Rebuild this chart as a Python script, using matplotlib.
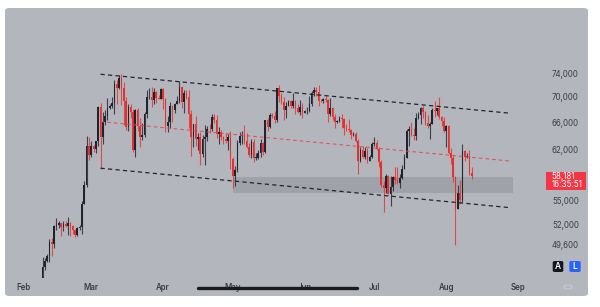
import matplotlib
matplotlib.use("Agg")
import matplotlib.pyplot as plt
import matplotlib.dates as mdates
import pandas as pd
from matplotlib.patches import Rectangle, FancyBboxPatch, Circle
from matplotlib.lines import Line2D
from matplotlib.ticker import FuncFormatter, NullLocator

# ---------------- data (BTC daily candles, thousands USD) ----------------
start_date = "2024-02-09"

opens = [
    45.29, 47.13, 47.77, 48.29, 49.96, 49.73, 51.83, 51.94, 52.16, 51.66, 52.12, 51.78, 52.26, 51.84, 51.30, 50.73, 51.57, 51.73, 54.52, 57.09, 62.50,
    61.20, 62.44, 62.03, 63.17, 68.33, 63.80, 66.11, 66.93, 68.30, 68.50, 69.02, 72.12, 71.48, 73.08, 71.40, 69.40, 65.32, 68.39, 67.61, 61.94, 67.91, 65.49, 63.78, 64.04, 67.21, 69.96, 69.99, 69.46, 70.74, 69.89, 69.65,
    71.33, 69.70, 65.45, 65.98, 68.51, 67.84, 68.90, 69.36, 71.63, 69.14, 70.59, 70.06, 67.20, 63.82, 65.74, 63.42, 63.81, 61.28, 63.51, 63.84, 64.99, 64.93, 66.84, 66.41, 64.28, 64.49, 63.76, 63.42, 63.11, 63.84,
    60.64, 58.25, 59.12, 62.89, 63.89, 64.03, 63.16, 62.33, 61.19, 63.05, 60.79, 60.79, 61.45, 62.90, 61.55, 66.27, 65.23, 67.05, 66.94, 66.28, 71.45, 70.14, 69.12, 67.93, 68.53, 69.27, 68.51, 69.39, 68.30, 67.58, 68.35,
    67.49, 67.71, 67.75, 68.80, 70.57, 71.08, 70.76, 69.34, 69.31, 69.65, 69.51, 67.32, 68.24, 66.75, 66.01, 66.19, 66.64, 66.49, 65.15, 64.96, 64.83, 64.10, 64.25, 63.18, 60.28, 61.80, 60.86, 61.67, 60.32, 60.89,
    62.68, 62.85, 62.03, 60.17, 56.98, 56.66, 58.23, 55.86, 56.71, 58.05, 57.72, 57.34, 57.90, 59.23, 60.79, 64.72, 65.04, 64.09, 63.97, 66.71, 67.16, 68.19, 67.58, 65.93, 65.37, 65.80, 67.91, 67.81, 68.26, 66.78, 66.19,
    64.62, 65.35, 61.50, 60.68, 58.12, 53.99, 56.03, 55.03, 61.71, 60.88, 60.95, 58.71,
]
highs = [
    48.20, 48.10, 48.60, 50.30, 50.40, 52.00, 52.80, 52.50, 52.20, 52.40, 52.50, 52.90, 52.30, 52.00, 51.50, 51.70, 51.90, 54.90, 57.50, 63.90, 63.70,
    63.20, 62.60, 63.20, 68.50, 69.00, 67.60, 67.90, 69.90, 68.80, 70.00, 72.80, 72.90, 73.60, 73.80, 72.40, 70.00, 68.90, 68.90, 68.10, 68.00, 68.20, 66.60, 65.90, 67.60, 71.20, 71.50, 71.70, 71.50, 70.90, 70.30, 71.40,
    71.50, 69.80, 66.90, 69.20, 68.70, 69.00, 70.20, 72.70, 71.70, 71.10, 71.20, 71.20, 67.90, 65.80, 66.90, 64.30, 64.50, 64.10, 65.50, 65.40, 65.70, 67.20, 67.20, 67.10, 65.30, 64.80, 63.90, 64.30, 64.20, 64.70,
    60.80, 59.60, 63.30, 64.50, 64.60, 65.50, 64.40, 62.90, 63.40, 63.40, 61.40, 61.80, 63.40, 63.00, 66.40, 66.70, 67.40, 67.40, 67.70, 71.50, 71.90, 70.60, 70.00, 69.20, 69.50, 69.50, 70.60, 69.50, 68.80, 69.50, 69.00,
    67.90, 68.40, 70.20, 71.00, 71.70, 71.60, 71.90, 69.60, 69.90, 70.10, 69.60, 69.90, 68.40, 67.30, 66.40, 66.90, 67.20, 66.60, 65.70, 66.50, 65.00, 64.50, 64.50, 63.40, 62.30, 62.40, 62.30, 62.20, 61.20, 63.00,
    63.80, 63.30, 62.30, 60.50, 57.50, 58.50, 58.40, 58.20, 58.30, 59.40, 59.50, 58.50, 59.80, 61.30, 64.90, 65.40, 66.10, 65.10, 67.40, 67.60, 68.40, 68.50, 67.80, 67.10, 66.10, 68.30, 69.40, 68.30, 70.00, 66.90, 66.80,
    65.60, 65.60, 62.20, 61.10, 58.30, 57.00, 57.70, 62.70, 61.80, 61.40, 61.80, 59.50,
]
lows = [
    45.25, 46.80, 47.70, 47.70, 48.30, 49.30, 51.30, 51.60, 50.70, 51.20, 51.70, 50.80, 50.70, 50.90, 50.50, 50.60, 51.30, 50.90, 54.50, 56.70, 60.40,
    60.80, 61.60, 61.40, 62.40, 59.20, 62.80, 65.60, 66.30, 68.00, 68.20, 67.20, 68.80, 71.30, 68.70, 65.60, 64.80, 64.60, 66.60, 61.60, 60.80, 64.60, 62.30, 63.30, 63.80, 66.60, 69.60, 68.40, 68.90, 69.10, 69.60, 69.60,
    68.10, 64.50, 64.50, 65.10, 66.00, 67.50, 68.80, 69.10, 68.20, 67.50, 69.60, 65.10, 61.00, 62.30, 62.40, 61.80, 59.80, 60.80, 59.70, 63.20, 64.30, 64.60, 65.90, 63.60, 62.80, 63.30, 62.80, 62.90, 61.80, 59.20,
    56.60, 56.90, 58.80, 62.60, 62.80, 62.70, 62.20, 60.90, 60.70, 60.20, 60.50, 60.60, 60.80, 61.10, 61.40, 64.60, 65.10, 66.60, 65.90, 66.10, 69.20, 68.90, 66.30, 66.70, 68.50, 68.30, 68.30, 67.30, 67.50, 67.10, 66.70,
    67.40, 67.30, 67.60, 68.60, 70.20, 70.10, 68.60, 69.20, 69.10, 69.20, 66.10, 66.90, 66.30, 65.10, 65.90, 66.00, 65.10, 64.10, 64.70, 64.50, 63.40, 63.90, 63.10, 58.50, 60.20, 60.70, 60.60, 60.00, 60.30, 60.70,
    62.50, 61.80, 59.50, 56.80, 53.50, 56.00, 55.80, 54.30, 56.30, 57.20, 57.10, 56.60, 57.80, 59.20, 60.70, 62.50, 63.90, 63.30, 63.30, 66.50, 65.80, 66.60, 65.50, 65.10, 63.50, 65.70, 66.80, 67.10, 66.50, 65.40, 64.50,
    62.30, 61.30, 59.90, 57.40, 49.60, 53.90, 54.60, 54.80, 60.30, 60.70, 58.40, 57.80,
]
closes = [
    47.13, 47.77, 48.29, 49.96, 49.73, 51.83, 51.94, 52.16, 51.66, 52.12, 51.78, 52.26, 51.84, 51.30, 50.73, 51.57, 51.73, 54.52, 57.09, 62.50, 61.20,
    62.44, 62.03, 63.17, 68.33, 63.80, 66.11, 66.93, 68.30, 68.50, 69.02, 72.12, 71.48, 73.08, 71.40, 69.40, 65.32, 68.39, 67.61, 61.94, 67.91, 65.49, 63.78, 64.04, 67.21, 69.96, 69.99, 69.46, 70.74, 69.89, 69.65, 71.33,
    69.70, 65.45, 65.98, 68.51, 67.84, 68.90, 69.36, 71.63, 69.14, 70.59, 70.06, 67.20, 63.82, 65.74, 63.42, 63.81, 61.28, 63.51, 63.84, 64.99, 64.93, 66.84, 66.41, 64.28, 64.49, 63.76, 63.42, 63.11, 63.84, 60.64,
    58.25, 59.12, 62.89, 63.89, 64.03, 63.16, 62.33, 61.19, 63.05, 60.79, 60.79, 61.45, 62.90, 61.55, 66.27, 65.23, 67.05, 66.94, 66.28, 71.45, 70.14, 69.12, 67.93, 68.53, 69.27, 68.51, 69.39, 68.30, 67.58, 68.35, 67.49,
    67.71, 67.75, 68.80, 70.57, 71.08, 70.76, 69.34, 69.31, 69.65, 69.51, 67.32, 68.24, 66.75, 66.01, 66.19, 66.64, 66.49, 65.15, 64.96, 64.83, 64.10, 64.25, 63.18, 60.28, 61.80, 60.86, 61.67, 60.32, 60.89, 62.68,
    62.85, 62.03, 60.17, 56.98, 56.66, 58.23, 55.86, 56.71, 58.05, 57.72, 57.34, 57.90, 59.23, 60.79, 64.72, 65.04, 64.09, 63.97, 66.71, 67.16, 68.19, 67.58, 65.93, 65.37, 65.80, 67.91, 67.81, 68.26, 66.78, 66.19, 64.62,
    65.35, 61.50, 60.68, 58.12, 53.99, 56.03, 55.03, 61.71, 60.88, 60.95, 58.71, 58.18,
]

# drawn channel (date, price)
upper_channel = [("2024-03-05", 73800), ("2024-08-28 12:00", 67400)]
middle_channel = [("2024-03-05", 66100), ("2024-08-28 12:00", 60300)]
lower_channel = [("2024-03-05", 59300), ("2024-08-28 12:00", 54100)]
support_zone = ("2024-05-01", "2024-08-29 16:00", 56000, 58100)

price_ticks = [49600, 52000, 55000, 62000, 66000, 70000, 74000]
month_ticks = ["2024-02-01", "2024-03-01", "2024-04-01", "2024-05-01",
               "2024-06-01", "2024-07-01", "2024-08-01", "2024-09-01"]
month_labels = ["Feb", "Mar", "Apr", "May", "Jun", "Jul", "Aug", "Sep"]
last_price = 58181
last_price_text = "58,181"
countdown_text = "16:35:51"
x_range = ("2024-01-23 20:00", "2024-09-12 14:00")
y_range = (45930, 86100)

assert len(opens) == len(highs) == len(lows) == len(closes)

# ---------------- figure ----------------
W, H = 600, 307
plt.rcParams['font.family'] = ['Inter', 'DejaVu Sans']
fig = plt.figure(figsize=(W / 100, H / 100), dpi=100)
fig.patch.set_facecolor("white")

def fx(x):
    return x / W

def fy(y):
    return 1 - y / H

BG = "#b4b6be"
panel = FancyBboxPatch((fx(5), fy(296)), fx(588) - fx(5), fy(8) - fy(296),
                       boxstyle="round,pad=0,rounding_size=0.008",
                       transform=fig.transFigure, facecolor=BG,
                       edgecolor="none", zorder=-10)
fig.patches.append(panel)

ax = fig.add_axes([fx(5), fy(278), fx(545) - fx(5), fy(8) - fy(278)])
ax.set_zorder(1)
ax.set_facecolor("none")
for s in ax.spines.values():
    s.set_visible(False)

ax.set_yscale("log")
ax.set_xlim(mdates.date2num(pd.to_datetime(x_range[0])),
            mdates.date2num(pd.to_datetime(x_range[1])))
ax.set_ylim(*y_range)

dates = pd.date_range(start_date, periods=len(closes), freq="D")
xd = mdates.date2num(dates)
UP, DOWN = "#20232d", "#e6302d"
o = [v * 1000 for v in opens]
h = [v * 1000 for v in highs]
l = [v * 1000 for v in lows]
c = [v * 1000 for v in closes]
cols = [UP if cc >= oo else DOWN for oo, cc in zip(o, c)]
bottoms = [min(oo, cc) for oo, cc in zip(o, c)]
heights = [max(abs(cc - oo), 60) for oo, cc in zip(o, c)]

# support zone
z0, z1, zlo, zhi = support_zone
ax.fill_between([mdates.date2num(pd.to_datetime(z0)), mdates.date2num(pd.to_datetime(z1))],
                zlo, zhi, color="#a0a2a9", linewidth=0, zorder=1)

ax.vlines(xd, l, h, colors=cols, linewidth=0.8, alpha=0.8, zorder=3)
ax.bar(xd, heights, bottom=bottoms, width=0.7, color=cols, linewidth=0, zorder=4)

def chan(pts, color, lw, dashes, alpha=1.0):
    xs = [mdates.date2num(pd.to_datetime(p[0])) for p in pts]
    ys = [p[1] for p in pts]
    ax.plot(xs, ys, color=color, lw=lw, linestyle=(0, dashes), alpha=alpha, zorder=5)

chan(upper_channel, "#24252b", 0.9, (3.4, 2.6))
chan(lower_channel, "#24252b", 0.9, (3.4, 2.6))
chan(middle_channel, "#e2484a", 0.8, (3.4, 2.6), alpha=0.85)

# axes ticks
ax.yaxis.tick_right()
ax.set_yticks(price_ticks)
ax.yaxis.set_minor_locator(NullLocator())
ax.yaxis.set_major_formatter(FuncFormatter(lambda v, p: f"{int(round(v)):,}"))
ax.tick_params(axis="y", length=0, pad=5, labelsize=5.7, labelcolor="#3b3e48")
ax.set_xticks(mdates.date2num(pd.to_datetime(month_ticks)))
ax.set_xticklabels(month_labels, fontweight="semibold")
ax.tick_params(axis="x", length=0, pad=3.5, labelsize=5.7, labelcolor="#3b3e48")

# last price box
_, yd = ax.transData.transform((ax.get_xlim()[0], last_price))
box = Rectangle((fx(545.7), (yd - 13.2) / H), (586 - 545.7) / W, 17.6 / H,
                transform=fig.transFigure, facecolor="#f23645", edgecolor="none", zorder=6)
fig.patches.append(box)
fig.text(fx(551.5), yd / H, last_price_text, color="white", fontsize=5.8,
         va="center", ha="left", zorder=7)
fig.text(fx(551.5), (yd - 8.3) / H, countdown_text, color="white", fontsize=5.8,
         va="center", ha="left", zorder=7)

# A / L buttons
for (x0, x1, fc, t) in [(552.7, 563.3, "#131722", "A"), (569.3, 580.7, "#2962ff", "L")]:
    b = FancyBboxPatch((fx(x0), fy(272)), (x1 - x0) / W, 11 / H,
                       boxstyle="round,pad=0,rounding_size=0.004",
                       transform=fig.transFigure, facecolor=fc, edgecolor="none", zorder=6)
    fig.patches.append(b)
    fig.text(fx((x0 + x1) / 2), fy(266.5), t, color="white", fontsize=6,
             fontweight="semibold", ha="center", va="center", zorder=7)

# settings icon
fig.patches.append(Circle((fx(568), fy(287)), 4.0 / W, transform=fig.transFigure,
                          facecolor="none", edgecolor="#c8cad0", lw=0.8, zorder=6))

# scroll indicator overlay
fig.lines.append(Line2D([fx(198), fx(357)], [fy(288), fy(288)], transform=fig.transFigure,
                        color="#1b1b1d", lw=2.4, solid_capstyle="round", zorder=8))

fig.savefig("out.png", dpi=100, facecolor="white")
